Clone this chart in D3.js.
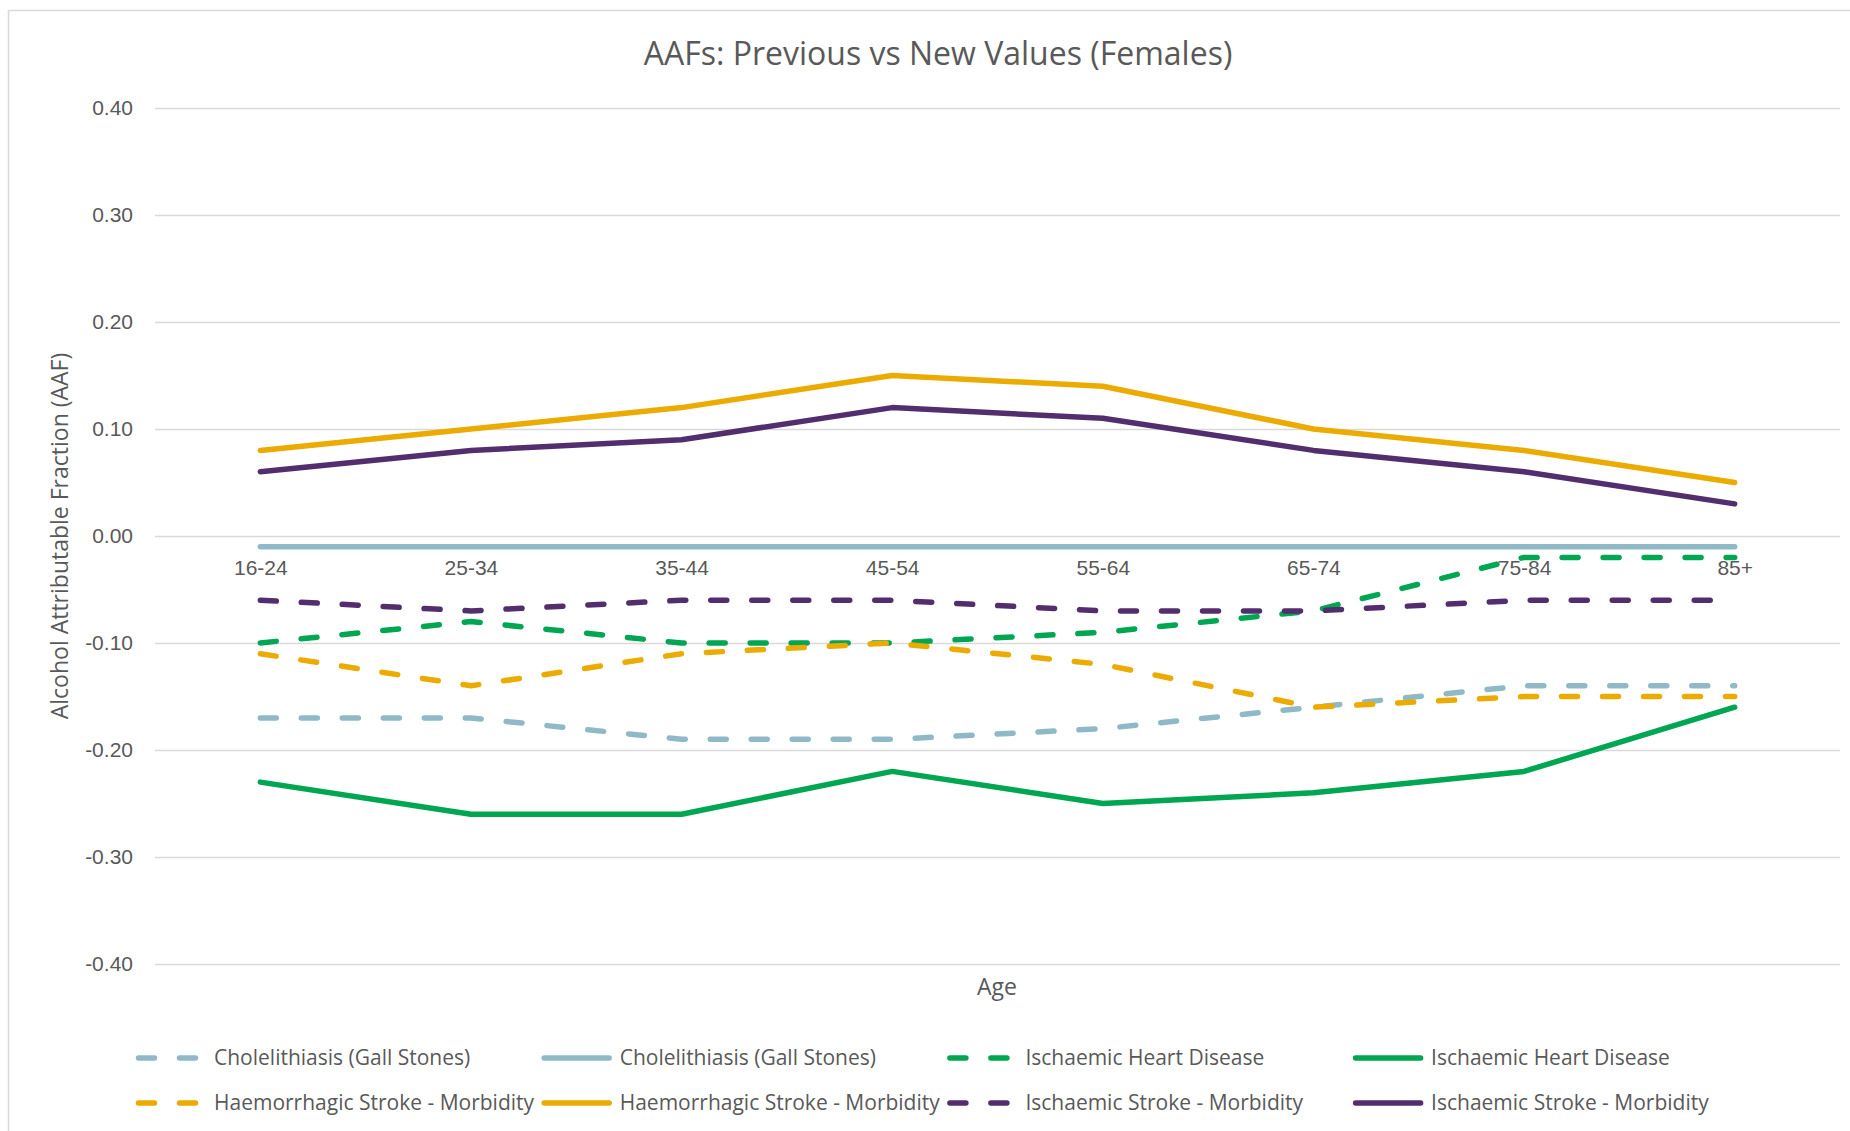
<!DOCTYPE html>
<html>
<head>
<meta charset="utf-8">
<title>AAFs: Previous vs New Values (Females)</title>
<script src="https://d3js.org/d3.v7.min.js"></script>
<style>
  body { margin: 0; background: #fff; }
  svg { display: block; font-family: 'Open Sans', 'Noto Sans', sans-serif; }
  .grid line { stroke: #d9d9d9; stroke-width: 1.5; }
  .grid .domain { display: none; }
  .tick text { fill: #595959; }
</style>
</head>
<body>
<svg id="chart" width="1850" height="1131"></svg>
<script>
// Categories and tick values
const ageGroups = ['16-24', '25-34', '35-44', '45-54', '55-64', '65-74', '75-84', '85+'];
const yTicks = [-0.4, -0.3, -0.2, -0.1, 0, 0.1, 0.2, 0.3, 0.4];

// Series values (dashed = previous, solid = new)
const cholePrev = [-0.17, -0.17, -0.19, -0.19, -0.18, -0.16, -0.14, -0.14];
const choleNew = [-0.01, -0.01, -0.01, -0.01, -0.01, -0.01, -0.01, -0.01];
const ihdPrev = [-0.10, -0.08, -0.10, -0.10, -0.09, -0.07, -0.02, -0.02];
const ihdNew = [-0.23, -0.26, -0.26, -0.22, -0.25, -0.24, -0.22, -0.16];
const haemPrev = [-0.11, -0.14, -0.11, -0.10, -0.12, -0.16, -0.15, -0.15];
const haemNew = [0.08, 0.10, 0.12, 0.15, 0.14, 0.10, 0.08, 0.05];
const isPrev = [-0.06, -0.07, -0.06, -0.06, -0.07, -0.07, -0.06, -0.06];
const isNew = [0.06, 0.08, 0.09, 0.12, 0.11, 0.08, 0.06, 0.03];

const seriesNames = [
  'Cholelithiasis (Gall Stones)', 'Cholelithiasis (Gall Stones)',
  'Ischaemic Heart Disease', 'Ischaemic Heart Disease',
  'Haemorrhagic Stroke - Morbidity', 'Haemorrhagic Stroke - Morbidity',
  'Ischaemic Stroke - Morbidity', 'Ischaemic Stroke - Morbidity',
];
const seriesValues = [cholePrev, choleNew, ihdPrev, ihdNew, haemPrev, haemNew, isPrev, isNew];
const seriesDashed = [true, false, true, false, true, false, true, false];
const seriesColors = ['#8fb9c7', '#8fb9c7', '#00a651', '#00a651', '#ebab00', '#ebab00', '#532e6e', '#532e6e'];

const series = seriesNames.map((name, i) => ({
  name,
  dashed: seriesDashed[i],
  color: seriesColors[i],
  values: seriesValues[i].map((v, j) => ({ age: ageGroups[j], v })),
}));

const PLOT = { LEFT: 155, RIGHT: 1840, TOP: 108, BOTTOM: 964 };
const DASH = '16 25';
const TEXT = '#595959';
const LINE_W = 5.5;

const svg = d3.select('#chart');

// Chart area border
svg.append('rect')
  .attr('x', 8.5)
  .attr('y', 10.5)
  .attr('width', 1900)
  .attr('height', 1200)
  .attr('fill', '#fff')
  .attr('stroke', '#d9d9d9')
  .attr('stroke-width', 1.5);

const xScale = d3.scalePoint()
  .domain(ageGroups)
  .range([PLOT.LEFT, PLOT.RIGHT])
  .padding(0.5);
const yScale = d3.scaleLinear()
  .domain([-0.4, 0.4])
  .range([PLOT.BOTTOM, PLOT.TOP]);

// Gridlines + y tick labels
svg.append('g')
  .attr('class', 'grid')
  .attr('transform', `translate(${PLOT.LEFT},0)`)
  .call(d3.axisLeft(yScale)
    .tickValues(yTicks)
    .tickFormat(d => d.toFixed(2))
    .tickSize(-(PLOT.RIGHT - PLOT.LEFT))
    .tickPadding(22))
  .call(g => g.selectAll('text').style('font-size', '21px'));

// Category labels sit under the zero line
svg.append('g')
  .attr('class', 'x-axis')
  .attr('transform', `translate(0,${yScale(0)})`)
  .call(d3.axisBottom(xScale).tickSize(0).tickPadding(24))
  .call(g => g.select('.domain').remove())
  .call(g => g.selectAll('text').style('font-size', '21px'));

// Lines
const line = d3.line()
  .x(d => xScale(d.age))
  .y(d => yScale(d.v));

svg.append('g')
  .selectAll('path')
  .data(series)
  .join('path')
  .attr('d', d => line(d.values))
  .attr('fill', 'none')
  .attr('stroke', d => d.color)
  .attr('stroke-width', LINE_W)
  .attr('stroke-linejoin', 'round')
  .attr('stroke-linecap', 'round')
  .attr('stroke-dasharray', d => (d.dashed ? DASH : null));

// Title and axis titles
svg.append('text')
  .attr('x', 938)
  .attr('y', 65)
  .attr('text-anchor', 'middle')
  .attr('fill', TEXT)
  .style('font-size', '32px')
  .text('AAFs: Previous vs New Values (Females)');

svg.append('text')
  .attr('x', 997)
  .attr('y', 995)
  .attr('text-anchor', 'middle')
  .attr('fill', TEXT)
  .style('font-size', '23px')
  .text('Age');

svg.append('text')
  .attr('transform', `translate(68,${yScale(0)}) rotate(-90)`)
  .attr('text-anchor', 'middle')
  .attr('fill', TEXT)
  .style('font-size', '23px')
  .text('Alcohol Attributable Fraction (AAF)');

// Legend: 4 columns x 2 rows
const legend = svg.append('g')
  .selectAll('g')
  .data(series)
  .join('g')
  .attr('transform', (d, i) => `translate(${136 + (i % 4) * 405.7},${i < 4 ? 1058 : 1103})`);

legend.append('path')
  .attr('d', 'M2.5,0H67.5')
  .attr('stroke', d => d.color)
  .attr('stroke-width', LINE_W)
  .attr('stroke-linecap', 'round')
  .attr('stroke-dasharray', d => (d.dashed ? DASH : null));

legend.append('text')
  .attr('x', 78)
  .attr('dy', '0.35em')
  .attr('fill', TEXT)
  .style('font-size', '21px')
  .text(d => d.name);
</script>
</body>
</html>
